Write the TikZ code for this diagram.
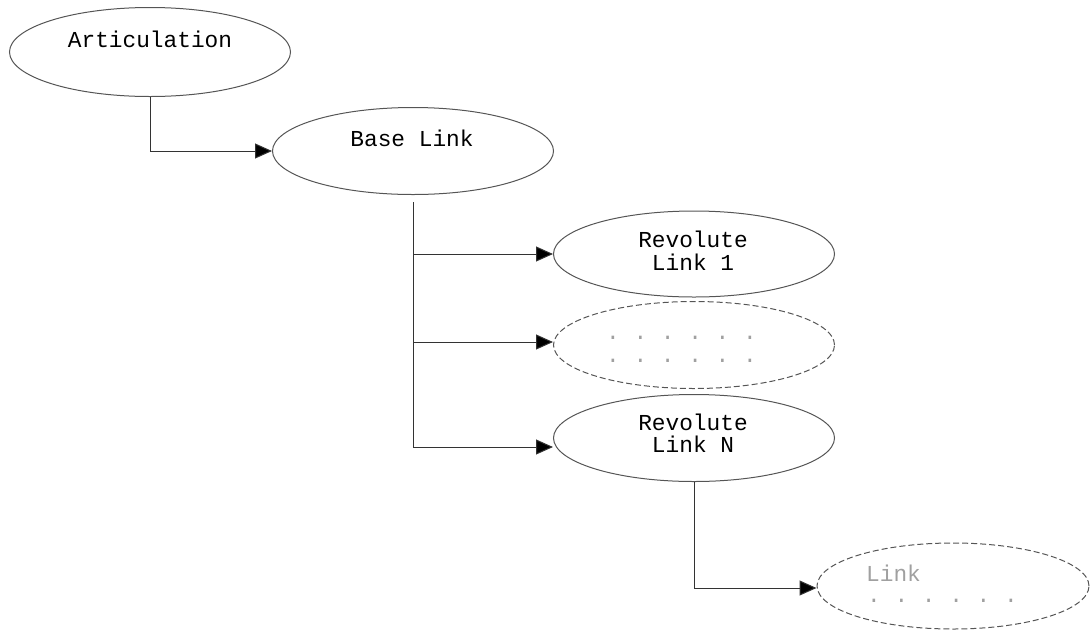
\documentclass[tikz,border=0pt]{standalone}
\usepackage{fontspec}
\setmonofont{Liberation Mono}
\usetikzlibrary{shapes.geometric,arrows.meta}
\definecolor{edgegray}{HTML}{555555}
\definecolor{linegray}{HTML}{333333}
\definecolor{txtgray}{HTML}{A0A0A0}
\tikzset{
  ell/.style={ellipse, draw=edgegray, line width=1pt, inner sep=0pt},
  dell/.style={ell, dash pattern=on 6pt off 3pt},
  lbl/.style={font=\ttfamily\fontsize{22.8}{22}\selectfont, inner sep=0pt, anchor=base},
  glbl/.style={lbl, text=txtgray},
  conn/.style={draw=linegray, line width=1pt, -{Triangle[length=17pt,width=15pt,fill=black]}},
  wire/.style={draw=linegray, line width=1pt}
}
\begin{document}
\begin{tikzpicture}[x=1pt,y=-1pt]
\useasboundingbox (0,0) rectangle (1090,630);
% ellipses
\node[ell, minimum width=281pt, minimum height=89pt] (art) at (150,52) {};
\node[ell, minimum width=281pt, minimum height=87pt] (base) at (413,151) {};
\node[ell, minimum width=281pt, minimum height=86pt] (rev1) at (694,254) {};
\node[dell, minimum width=281pt, minimum height=87pt] (dots) at (694,345) {};
\node[ell, minimum width=281pt, minimum height=87pt] (revN) at (694,438) {};
\node[dell, minimum width=272pt, minimum height=86pt] (link) at (953,586) {};
% labels
\node[lbl] (tart) at (150,47) {Articulation};
\node[lbl] (tbase) at (412,146) {Base Link};
\node[lbl] (trev1a) at (693,247) {Revolute};
\node[lbl] (trev1b) at (693,270) {Link 1};
\node[glbl, anchor=base west] (tdota) at (606,339) {. . . . . .};
\node[glbl, anchor=base west] (tdotb) at (606,362) {. . . . . .};
\node[lbl] (trevNa) at (693,430) {Revolute};
\node[lbl] (trevNb) at (693,452) {Link N};
\node[glbl, anchor=base west] (tlinka) at (866,581) {Link};
\node[glbl, anchor=base west] (tlinkb) at (867,602) {. . . . . .};
% connectors
\coordinate (bus) at (413,202);
\draw[conn] (art.south) |- (base.west);
\draw[conn] (bus) |- (rev1.west);
\draw[conn] (bus) |- ([yshift=3pt]dots.west);
\draw[conn] (bus) |- ([yshift=-9pt]revN.west);
\draw[conn] (revN.south) |- ([yshift=-2pt]link.west);
\end{tikzpicture}
\end{document}
